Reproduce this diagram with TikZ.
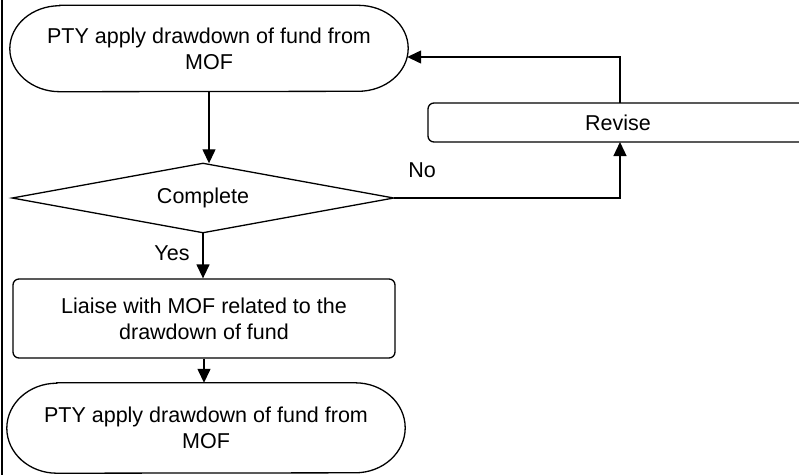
\documentclass[tikz,border=0pt]{standalone}
\usepackage{fontspec}
\setmainfont{Liberation Sans}
\usetikzlibrary{shapes.geometric,arrows.meta,calc}
\newcommand\drawterm[2]{%
  \draw[line width=1.3pt] ($(#1.north west)+(50,0)$) -- ($(#1.north east)+(-50,0)$)
    arc[start angle=-90,end angle=90,x radius=50,y radius=#2]
    -- ($(#1.south west)+(50,0)$)
    arc[start angle=90,end angle=270,x radius=50,y radius=#2] -- cycle;}
\begin{document}
\begin{tikzpicture}[x=1pt,y=-1pt,
  every node/.style={font=\fontsize{21.5}{26}\selectfont},
  lw/.style={line width=1.3pt},
  term/.style={rectangle,minimum width=398pt,minimum height=86pt,align=center,inner sep=0pt},
  proc/.style={draw,lw,rectangle,rounded corners=6pt,align=center,inner sep=0pt},
  dec/.style={rectangle,inner sep=0pt,minimum width=381pt,minimum height=69pt},
  arr/.style={lw,-{Triangle[length=14pt,width=13pt]}},
  lbl/.style={inner sep=0pt}]
\useasboundingbox (0,0) rectangle (799,475);
\clip (0,0) rectangle (799,475);
\draw[lw] (2,0) -- (2,475);
\node[term] (top) at (209,48.5) {PTY apply drawdown of fund from\\MOF};
\drawterm{top}{43}
\node[dec] (dia) at (203,198) {Complete};
\draw[lw,line join=miter] (dia.west) -- (dia.north) -- (dia.east) -- (dia.south) -- cycle;
\node[proc,minimum width=382pt,minimum height=79pt] (lia) at (204,318.5) {Liaise with MOF related to the\\drawdown of fund};
\node[term,minimum height=90pt] (bot) at (206,428) {PTY apply drawdown of fund from\\MOF};
\drawterm{bot}{45}
\node[proc,minimum width=380pt,minimum height=39pt] (rev) at (618,122.5) {Revise};
\draw[arr] (top.south) -- (top.south |- dia.north);
\draw[arr] (dia.south) -- (dia.south |- lia.north);
\draw[arr] (lia.south) -- (lia.south |- bot.north);
\coordinate (rb) at (620,142);
\draw[arr] (dia.east) -| (rb);
\coordinate (rt) at (620,103);
\draw[arr] (rt) |- ($(top.east)+(-1,8.5)$);
\node[lbl] (no) at (422,170) {No};
\node[lbl] (yes) at (172,253) {Yes};
\end{tikzpicture}
\end{document}
